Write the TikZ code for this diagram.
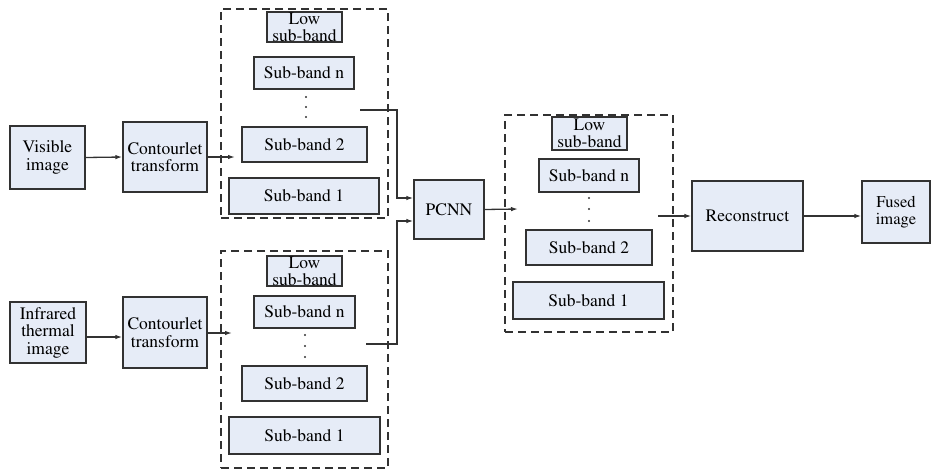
\documentclass[tikz,border=0pt]{standalone}
\usepackage[T1]{fontenc}
\usepackage{mathptmx}
\usetikzlibrary{arrows.meta,calc}
\definecolor{boxfill}{RGB}{230,236,247}
\definecolor{edge}{RGB}{50,50,50}
\begin{document}
\begin{tikzpicture}[x=1pt,y=-1pt,
  blk/.style={draw=edge,line width=1.3pt,fill=boxfill,inner sep=0pt,align=center,
    font=\rmfamily\fontsize{17.5}{17.5}\selectfont},
  lowbox/.style={blk,font=\rmfamily\fontsize{17.5}{17}\selectfont},
  group/.style={draw=edge,line width=1.1pt,dash pattern=on 8pt off 5pt},
  arr/.style={draw=edge,line width=1.3pt,-{Latex[length=7pt,width=4.5pt]}},
  dot/.style={circle,fill=edge,inner sep=0pt,minimum size=2.2pt}]
\useasboundingbox (0,0) rectangle (933,469);

% --- visible branch ---
\node[blk,minimum width=75pt,minimum height=63pt] (vis) at (47.5,157.5) {Visible\\image};
\node[blk,minimum width=84pt,minimum height=70pt] (ct1) at (165,157) {Contourlet\\transform};
\node[group,minimum width=167pt,minimum height=209pt,inner sep=0pt] (g1) at (304.5,113.5) {};
\node[lowbox,minimum width=75pt,minimum height=30pt] (lo1) at (304.5,27) {Low\\sub-band};
\node[blk,minimum width=100pt,minimum height=32pt] (sn1) at (304,73) {Sub-band n};
\node[dot] (d11) at (306,97) {};
\node[dot] (d12) at (306,107) {};
\node[dot] (d13) at (306,117) {};
\node[blk,minimum width=125pt,minimum height=35pt] (s21) at (304.5,144.5) {Sub-band 2};
\node[blk,minimum width=150pt,minimum height=36pt] (s11) at (304,196) {Sub-band 1};

% --- infrared branch ---
\node[blk,minimum width=76pt,minimum height=61pt] (inf) at (48,332.5) {Infrared\\thermal\\image};
\node[blk,minimum width=84pt,minimum height=71pt] (ct2) at (165,332.5) {Contourlet\\transform};
\node[group,minimum width=167pt,minimum height=217pt,inner sep=0pt] (g2) at (304.5,359.5) {};
\node[lowbox,minimum width=75pt,minimum height=30pt] (lo2) at (304.5,271) {Low\\sub-band};
\node[blk,minimum width=101pt,minimum height=32pt] (sn2) at (304.5,312) {Sub-band n};
\node[dot] (d21) at (305,335) {};
\node[dot] (d22) at (305,346) {};
\node[dot] (d23) at (305,357) {};
\node[blk,minimum width=125pt,minimum height=35pt] (s22) at (304.5,383.5) {Sub-band 2};
\node[blk,minimum width=151pt,minimum height=37pt] (s12) at (304.5,435.5) {Sub-band 1};

% --- fusion ---
\node[blk,minimum width=70pt,minimum height=59pt] (pcnn) at (449,209.5) {PCNN};
\node[group,minimum width=168pt,minimum height=217pt,inner sep=0pt] (g3) at (589,223.5) {};
\node[lowbox,minimum width=75pt,minimum height=33pt] (lo3) at (589.5,133.5) {Low\\sub-band};
\node[blk,minimum width=100pt,minimum height=33pt] (sn3) at (589,175.5) {Sub-band n};
\node[dot] (d31) at (589,198) {};
\node[dot] (d32) at (589,209) {};
\node[dot] (d33) at (589,221) {};
\node[blk,minimum width=126pt,minimum height=35pt] (s23) at (589,247.5) {Sub-band 2};
\node[blk,minimum width=151pt,minimum height=37pt] (s13) at (588.5,300.5) {Sub-band 1};
\node[blk,minimum width=111pt,minimum height=70pt] (rec) at (747.5,216) {Reconstruct};
\node[blk,minimum width=68pt,minimum height=62pt,font=\rmfamily\fontsize{16.5}{17}\selectfont] (fus) at (896,212) {Fused\\image};

% connector ends inside the dashed groups
\coordinate (in1) at (235,157);
\coordinate (in2) at (232,333);
\coordinate (out1) at (360,110);
\coordinate (out2) at (366,344);
\coordinate (bus) at (397,0);
\coordinate (in3) at (518,209);
\coordinate (out3) at (658,216);

% --- connectors ---
\draw[arr] (vis.east) -- (ct1.west);
\draw[arr] (ct1.east) -- (in1);
\draw[arr] ([yshift=-4.5pt]inf.east) -- ([yshift=-4.5pt]ct2.west);
\draw[arr] (ct2.east |- in2) -- (in2);
\draw[arr] (out1) -- (out1 -| bus) -- ($(bus |- pcnn.west)+(0,-11.5)$) -- ($(pcnn.west)+(0,-11.5)$);
\draw[arr] (out2) -- (out2 -| bus) -- ($(bus |- pcnn.west)+(0,11.5)$) -- ($(pcnn.west)+(0,11.5)$);
\draw[arr] (pcnn.east) -- (in3);
\draw[arr] (out3) -- (rec.west);
\draw[arr] (rec.east) -- (rec.east -| fus.west);
\end{tikzpicture}
\end{document}
